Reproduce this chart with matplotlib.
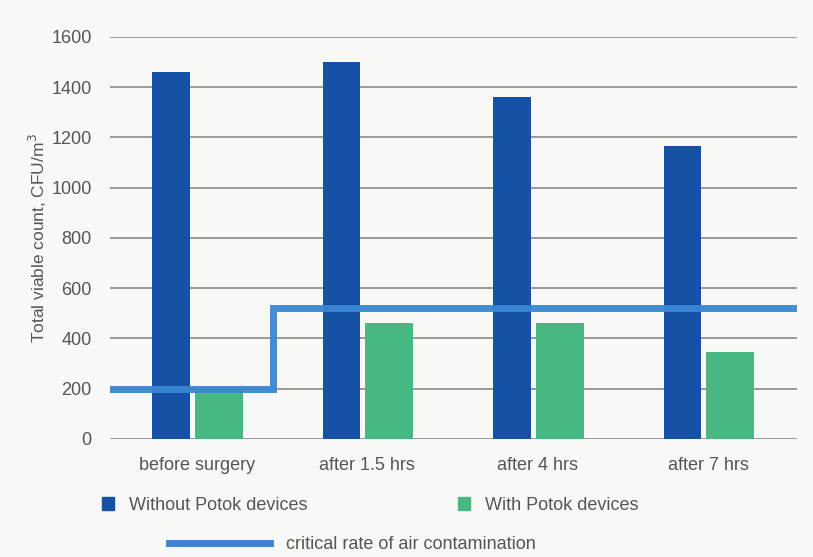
import matplotlib.pyplot as plt
import matplotlib.patches as mpatches
import matplotlib.lines as mlines
import numpy as np

# data
categories = ['before surgery', 'after 1.5 hrs', 'after 4 hrs', 'after 7 hrs']
without_potok = [1460, 1500, 1360, 1165]
with_potok = [195, 460, 460, 345]
critical_x = [-0.5, 0.45, 0.45, 3.5]
critical_y = [200, 200, 520, 520]
yticks = [0, 200, 400, 600, 800, 1000, 1200, 1400, 1600]

blue = '#1552a6'
green = '#47b881'
line_blue = '#3a86d3'
grey_text = '#555555'

plt.rcParams['font.family'] = ['Liberation Sans', 'DejaVu Sans']

fig = plt.figure(figsize=(8.13, 5.57), dpi=100)
fig.patch.set_facecolor('#f8f8f6')
ax = fig.add_axes([0.135, 0.212, 0.845, 0.722])
ax.set_facecolor('#f8f8f6')

x = np.arange(len(categories))
ax.bar(x - 0.15, without_potok, width=0.22, color=blue, zorder=2)
ax.bar(x + 0.13, with_potok, width=0.28, color=green, zorder=2)
ax.plot(critical_x, critical_y, color=line_blue, lw=5, solid_joinstyle='miter',
        zorder=3, alpha=0.95)

ax.set_xlim(-0.51, 3.52)
ax.set_ylim(0, 1600)
ax.set_yticks(yticks)
ax.yaxis.grid(True, color='#8a8a8a', lw=1.2, zorder=0)
ax.set_xticks(x)
ax.set_xticklabels(categories)
ax.tick_params(length=0, labelsize=13, labelcolor=grey_text)
ax.tick_params(axis='y', pad=13)
ax.tick_params(axis='x', pad=13)
for s in ax.spines.values():
    s.set_visible(False)
ax.set_ylabel('Total viable count, CFU/m$^3$', fontsize=12.5, color=grey_text, labelpad=2)

# legend laid out like the reference: two boxes on one row, the line below
h1 = mpatches.Patch(color=blue)
h2 = mpatches.Patch(color=green)
h3 = mlines.Line2D([], [], color=line_blue, lw=5)
common = dict(frameon=False, fontsize=13, labelcolor=grey_text, handlelength=0.7,
              handleheight=0.7, handletextpad=0.8, loc='center left')
l1 = fig.legend([h1], ['Without Potok devices'], bbox_to_anchor=(0.105, 0.093), **common)
l2 = fig.legend([h2], ['With Potok devices'], bbox_to_anchor=(0.543, 0.093), **common)
common.update(handlelength=5.6, handletextpad=0.9)
l3 = fig.legend([h3], ['critical rate of air contamination'], bbox_to_anchor=(0.188, 0.022), **common)

fig.savefig('out.png', dpi=100, facecolor=fig.get_facecolor())
